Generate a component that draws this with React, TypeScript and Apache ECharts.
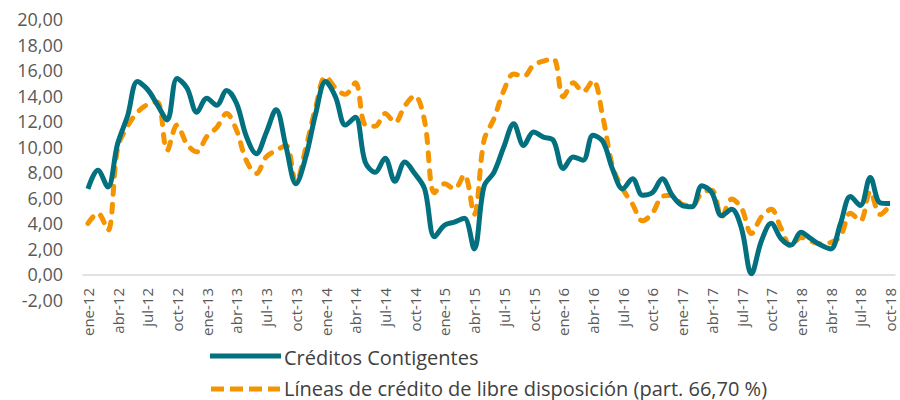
import React, { useEffect, useRef } from "react";
import * as echarts from "echarts";

const monthNames = ["ene", "feb", "mar", "abr", "may", "jun", "jul", "ago", "sep", "oct", "nov", "dic"];
const years = ["12", "13", "14", "15", "16", "17", "18"];
const lastMonthIndex = 9; // oct-18

const categories: string[] = [];
years.forEach((y, yi) => {
  monthNames.forEach((m, mi) => {
    if (yi === years.length - 1 && mi > lastMonthIndex) return;
    categories.push(`${m}-${y}`);
  });
});

const creditosContigentes = [
  6.7, 8.15, 6.85, 10.25, 12.4, 15.1, 14.5, 13.3, 12.1, 15.35, 14.6, 12.7,
  13.8, 13.25, 14.4, 13.4, 10.8, 9.45, 11.1, 12.9, 10.0, 7.1, 9.2, 12.6,
  15.1, 13.9, 11.7, 12.3, 8.8, 8.0, 9.1, 7.3, 8.8, 7.9, 6.7, 2.95,
  3.85, 4.1, 4.4, 2.0, 6.9, 8.0, 10.0, 11.8, 10.1, 11.15, 10.75, 10.5,
  8.3, 9.2, 8.95, 10.9, 10.4, 8.2, 6.7, 7.5, 6.2, 6.4, 7.5, 6.2,
  5.4, 5.3, 6.95, 6.4, 4.6, 5.1, 3.6, 0.05, 2.6, 4.0, 2.8, 2.3,
  3.3, 2.8, 2.3, 2.0, 4.0, 6.1, 5.4, 7.6, 5.6, 5.55,
];

const lineasCredito = [
  4.0, 4.8, 3.45, 9.9, 11.6, 12.7, 13.3, 13.5, 9.7, 11.7, 10.2, 9.6,
  10.8, 11.5, 12.6, 11.3, 8.9, 7.9, 9.2, 9.7, 10.1, 7.2, 9.9, 13.1,
  15.5, 14.6, 14.1, 15.0, 11.7, 11.6, 12.6, 11.9, 13.2, 14.0, 12.0, 6.4,
  7.1, 6.7, 7.8, 4.7, 10.5, 12.2, 14.4, 15.7, 15.5, 16.4, 16.7, 16.9,
  13.9, 15.0, 14.3, 15.2, 12.3, 8.4, 6.7, 5.5, 4.2, 4.8, 6.1, 6.2,
  5.5, 5.4, 6.4, 6.6, 4.5, 5.9, 5.2, 3.2, 4.5, 5.1, 3.6, 2.2,
  2.9, 2.6, 2.4, 2.5, 3.0, 4.8, 4.2, 6.5, 4.7, 5.4,
];

const seriesNames = [
  "Créditos Contigentes",
  "Líneas de crédito de libre disposición (part. 66,70 %)",
];

const TEAL = "#03707F";
const ORANGE = "#F39400";
const FONT = "'Open Sans', 'DejaVu Sans', sans-serif";

export default function App() {
  const ref = useRef<HTMLDivElement>(null);

  useEffect(() => {
    document.body.style.margin = "0";
    if (!ref.current) return;
    const chart = echarts.init(ref.current, undefined, { renderer: "svg" });
    chart.setOption({
      animation: false,
      backgroundColor: "#ffffff",
      textStyle: { fontFamily: FONT },
      grid: { left: 83, right: 5, top: 19, bottom: 100 },
      legend: { show: false, data: seriesNames },
      graphic: [
        {
          type: "line",
          shape: { x1: 210, y1: 356, x2: 281, y2: 356 },
          style: { stroke: TEAL, lineWidth: 5 },
        },
        {
          type: "text",
          x: 284,
          y: 357,
          style: {
            text: seriesNames[0],
            fill: "#404040",
            fontSize: 20,
            fontFamily: FONT,
            verticalAlign: "middle",
          },
        },
        {
          type: "line",
          shape: { x1: 211, y1: 389, x2: 280, y2: 389 },
          style: { stroke: ORANGE, lineWidth: 5, lineDash: [13, 6] },
        },
        {
          type: "text",
          x: 284,
          y: 388,
          style: {
            text: seriesNames[1],
            fill: "#404040",
            fontSize: 20,
            fontFamily: FONT,
            verticalAlign: "middle",
          },
        },
      ],
      xAxis: {
        type: "category",
        data: categories,
        boundaryGap: true,
        axisLine: { onZero: true, lineStyle: { color: "#d9d9d9", width: 1.5 } },
        axisTick: { show: false },
        axisLabel: {
          interval: 2,
          rotate: 90,
          margin: -12,
          fontSize: 15,
          color: "#595959",
          fontFamily: FONT,
        },
        splitLine: { show: false },
      },
      yAxis: {
        type: "value",
        min: -2,
        max: 20,
        interval: 2,
        axisLine: { show: false },
        axisTick: { show: false },
        splitLine: { show: false },
        axisLabel: {
          margin: 20,
          fontSize: 18,
          color: "#595959",
          fontFamily: FONT,
          formatter: (v: number) => v.toFixed(2).replace(".", ","),
        },
      },
      series: [
        {
          name: seriesNames[0],
          type: "line",
          data: creditosContigentes,
          smooth: 0.35,
          symbol: "none",
          lineStyle: { color: TEAL, width: 5 },
          itemStyle: { color: TEAL },
          z: 3,
        },
        {
          name: seriesNames[1],
          type: "line",
          data: lineasCredito,
          smooth: 0.35,
          symbol: "none",
          lineStyle: { color: ORANGE, width: 5, type: [8, 10], cap: "round" },
          itemStyle: { color: ORANGE },
          z: 2,
        },
      ],
    });
    return () => chart.dispose();
  }, []);

  return <div ref={ref} style={{ width: 900, height: 400 }} />;
}
